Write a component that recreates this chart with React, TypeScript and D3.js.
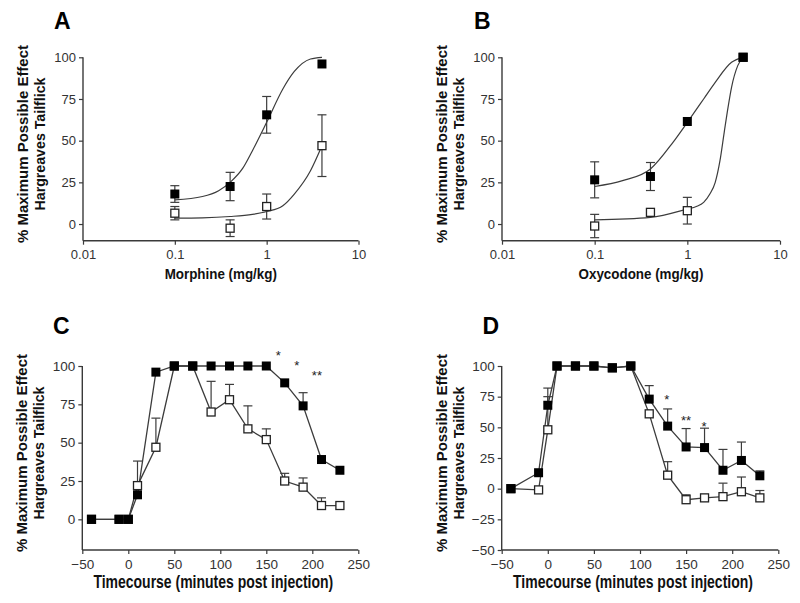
import React, { useEffect, useRef } from "react";
import * as d3 from "d3";

// ---------- data ----------
const doses = [0.1, 0.4, 1, 4];
const morphineFilled = [18, 22.5, 65.5, 96];
const morphineFilledErr = [5, 8.5, 11, 0];
const morphineOpen = [6.5, -2.5, 10.5, 47];
const morphineOpenErr = [4, 5, 7.5, 18.5];
const morphineFilledCurveX = [0.1, 0.2, 0.3, 0.4, 0.55, 0.7, 1, 1.5, 2, 3, 4];
const morphineFilledCurveY = [14.5, 16.5, 20, 25, 33.5, 44, 61, 81, 91.5, 99, 100];
const morphineOpenCurveX = [0.1, 0.2, 0.4, 0.7, 1, 1.5, 2, 3, 4];
const morphineOpenCurveY = [3.5, 3.7, 4.5, 5.8, 7.5, 11, 18, 32, 47];

const oxyFilled = [26.5, 28.5, 61.5, 100];
const oxyFilledErr = [10.8, 8.4, 0, 0];
const oxyOpen = [-1.2, 7, 8, 100];
const oxyOpenErr = [7, 0, 8, 0];
const oxyFilledCurveX = [0.1, 0.2, 0.4, 0.7, 1, 1.5, 2, 3, 4];
const oxyFilledCurveY = [22.5, 26, 33, 49, 61, 75, 85, 97, 100];
const oxyOpenCurveX = [0.1, 0.4, 1, 1.25, 1.5, 1.75, 2, 2.25, 2.5, 2.75, 3, 3.5, 4];
const oxyOpenCurveY = [2.5, 4, 9, 10.5, 13, 18, 25, 38, 55, 70, 82, 95, 100];

const times = [-40, -10, 0, 10, 30, 50, 70, 90, 110, 130, 150, 170, 190, 210, 230];
const cFilled = [0, 0, 0, 16, 96, 100, 100, 100, 100, 100, 100, 89, 74, 39, 32];
const cFilledErr = [0, 0, 0, 0, 0, 0, 0, 0, 0, 0, 0, 0, 8.6, 0, 0];
const cOpen = [0, 0, 0, 22, 47, 100, 100, 70, 78, 59, 52, 25, 21, 9, 9];
const cOpenErr = [0, 0, 0, 16, 19, 0, 0, 20, 10, 15, 7, 5, 6, 5, 0];
const cStarT = [163, 183, 205];
const cStarY = [108.5, 102, 95.5];
const cStarText = ["*", "*", "**"];

const dFilled = [0, 13, 68, 100, 100, 100, 98.5, 100, 73, 51, 34, 33.5, 15, 23, 10.5];
const dFilledErr = [0, 0, 14, 0, 0, 0, 0, 0, 11, 14, 15, 15.8, 17, 15, 4];
const dOpen = [0, -1, 48, 100, 100, 100, 98.5, 100, 61, 11, -9, -7.5, -6.5, -2.5, -7.5];
const dOpenErr = [0, 0, 27, 0, 0, 0, 0, 0, 0, 11, 4, 0, 11, 12, 6];
const dStarT = [129, 150, 169.5];
const dStarY = [74.7, 58, 52.4];
const dStarText = ["*", "**", "*"];

const logTicks = [0.01, 0.1, 1, 10];
const logTickLabels = ["0.01", "0.1", "1", "10"];
const timeTicks = [-50, 0, 50, 100, 150, 200, 250];
const abYTicks = [0, 25, 50, 75, 100];
const cYTicks = [0, 25, 50, 75, 100];
const dYTicks = [-50, -25, 0, 25, 50, 75, 100];

const FONT = "'Liberation Sans', Arial, Helvetica, sans-serif";

type Panel = {
  letter: string;
  lx: number; ly: number;
  x0: number; x1: number; y0: number; y1: number;
  log: boolean;
  xDomain: [number, number];
  yDomain: [number, number];
  yTicks: number[];
  xTitle: string;
  xTitleSize: number; xTitleScaleY: number; xTitleY: number; xTitleShift: number;
  tickSize: number;
  xs: number[];
  filled: number[]; filledErr: number[];
  open: number[]; openErr: number[];
  twoSided: boolean;
  curves?: { x: number[]; y: number[] }[];
  connect: boolean;
  stars?: { t: number[]; y: number[]; s: string[] };
};

const panels: Panel[] = [
  {
    letter: "A", lx: 54, ly: 28.5,
    x0: 83, x1: 358.5, y0: 240.7, y1: 57.3, log: true,
    xDomain: [0.01, 10], yDomain: [-10, 100], yTicks: abYTicks,
    xTitle: "Morphine (mg/kg)", xTitleSize: 13.4, xTitleScaleY: 1.05, xTitleY: 279, xTitleShift: 0,
    tickSize: 13,
    xs: doses, filled: morphineFilled, filledErr: morphineFilledErr,
    open: morphineOpen, openErr: morphineOpenErr, twoSided: true,
    curves: [
      { x: morphineFilledCurveX, y: morphineFilledCurveY },
      { x: morphineOpenCurveX, y: morphineOpenCurveY },
    ],
    connect: false,
  },
  {
    letter: "B", lx: 474, ly: 28.5,
    x0: 502, x1: 780, y0: 240.7, y1: 57.3, log: true,
    xDomain: [0.01, 10], yDomain: [-10, 100], yTicks: abYTicks,
    xTitle: "Oxycodone (mg/kg)", xTitleSize: 13.4, xTitleScaleY: 1.05, xTitleY: 279, xTitleShift: 0,
    tickSize: 13,
    xs: doses, filled: oxyFilled, filledErr: oxyFilledErr,
    open: oxyOpen, openErr: oxyOpenErr, twoSided: true,
    curves: [
      { x: oxyFilledCurveX, y: oxyFilledCurveY },
      { x: oxyOpenCurveX, y: oxyOpenCurveY },
    ],
    connect: false,
  },
  {
    letter: "C", lx: 53, ly: 333.5,
    x0: 82.3, x1: 358.3, y0: 550, y1: 366, log: false,
    xDomain: [-50, 250], yDomain: [-20, 100], yTicks: cYTicks,
    xTitle: "Timecourse (minutes post injection)", xTitleSize: 14, xTitleScaleY: 1.25, xTitleY: 588, xTitleShift: -7,
    tickSize: 13.5,
    xs: times, filled: cFilled, filledErr: cFilledErr,
    open: cOpen, openErr: cOpenErr, twoSided: false,
    connect: true,
    stars: { t: cStarT, y: cStarY, s: cStarText },
  },
  {
    letter: "D", lx: 482.5, ly: 333.5,
    x0: 501.7, x1: 778.3, y0: 550, y1: 366, log: false,
    xDomain: [-50, 250], yDomain: [-50, 100], yTicks: dYTicks,
    xTitle: "Timecourse (minutes post injection)", xTitleSize: 14, xTitleScaleY: 1.25, xTitleY: 588, xTitleShift: -7,
    tickSize: 13.5,
    xs: times, filled: dFilled, filledErr: dFilledErr,
    open: dOpen, openErr: dOpenErr, twoSided: false,
    connect: true,
    stars: { t: dStarT, y: dStarY, s: dStarText },
  },
];

const AXIS_COLOR = "#3a3a3a";
const LINE_COLOR = "#3c3c3c";
const MS = 9; // marker size
const CAP = 4.5;

export default function App() {
  const ref = useRef<SVGSVGElement | null>(null);

  useEffect(() => {
    const svg = d3.select(ref.current);
    svg.selectAll("*").remove();
    svg.append("rect").attr("width", 800).attr("height", 603).attr("fill", "#fff");

    panels.forEach((p) => {
      const g = svg.append("g");
      const x = p.log
        ? d3.scaleLog().domain(p.xDomain).range([p.x0, p.x1])
        : d3.scaleLinear().domain(p.xDomain).range([p.x0, p.x1]);
      const y = d3.scaleLinear().domain(p.yDomain).range([p.y0, p.y1]);

      // axes
      const yAxis = d3.axisLeft(y).tickValues(p.yTicks).tickSize(4).tickPadding(3).tickFormat(d3.format("d"));
      const xAxis = p.log
        ? d3.axisBottom(x as any).tickValues(logTicks).tickSize(4).tickPadding(5)
            .tickFormat((d: any, i: number) => logTickLabels[i])
        : d3.axisBottom(x as any).tickValues(timeTicks).tickSize(4).tickPadding(5).tickFormat(d3.format("d"));

      const ya = g.append("g").attr("transform", `translate(${p.x0},0)`).call(yAxis as any);
      const xa = g.append("g").attr("transform", `translate(0,${p.y0})`).call(xAxis as any);
      [ya, xa].forEach((a) => {
        a.select(".domain").attr("stroke", AXIS_COLOR).attr("stroke-width", 1.4);
        a.selectAll(".tick line").attr("stroke", AXIS_COLOR).attr("stroke-width", 1.2);
        a.selectAll(".tick text")
          .attr("fill", "#333")
          .attr("font-family", FONT)
          .attr("font-size", p.tickSize);
      });
      ya.select(".domain").attr("d", `M0,${p.y0}V${p.y1}`);
      xa.select(".domain").attr("d", `M${p.x0},0H${p.x1}`);

      // error bars
      const drawErr = (vals: number[], errs: number[]) => {
        vals.forEach((v, i) => {
          const e = errs[i];
          if (!e) return;
          const cx = x(p.xs[i]);
          const top = y(v + e);
          const bot = p.twoSided ? y(v - e) : y(v);
          g.append("line").attr("x1", cx).attr("x2", cx).attr("y1", top).attr("y2", bot)
            .attr("stroke", LINE_COLOR).attr("stroke-width", 1.2);
          g.append("line").attr("x1", cx - CAP).attr("x2", cx + CAP).attr("y1", top).attr("y2", top)
            .attr("stroke", LINE_COLOR).attr("stroke-width", 1.2);
          if (p.twoSided)
            g.append("line").attr("x1", cx - CAP).attr("x2", cx + CAP).attr("y1", bot).attr("y2", bot)
              .attr("stroke", LINE_COLOR).attr("stroke-width", 1.2);
        });
      };
      drawErr(p.open, p.openErr);
      drawErr(p.filled, p.filledErr);

      // curves / lines
      if (p.curves) {
        p.curves.forEach((c) => {
          const pts = c.x.map((xv, i) => [x(xv), y(c.y[i])] as [number, number]);
          g.append("path")
            .attr("d", d3.line().curve(d3.curveMonotoneX)(pts))
            .attr("fill", "none").attr("stroke", LINE_COLOR).attr("stroke-width", 1.2);
        });
      }
      if (p.connect) {
        const ln = d3.line<number>().x((_, i) => x(p.xs[i])).y((d) => y(d));
        g.append("path").attr("d", ln(p.open)).attr("fill", "none")
          .attr("stroke", LINE_COLOR).attr("stroke-width", 1.3);
        g.append("path").attr("d", ln(p.filled)).attr("fill", "none")
          .attr("stroke", LINE_COLOR).attr("stroke-width", 1.3);
      }

      // markers: open first, filled on top
      p.open.forEach((v, i) => {
        g.append("rect")
          .attr("x", x(p.xs[i]) - MS / 2 + 0.5).attr("y", y(v) - MS / 2 + 0.5)
          .attr("width", MS - 1).attr("height", MS - 1)
          .attr("fill", "#fff").attr("stroke", "#222").attr("stroke-width", 1.3);
      });
      p.filled.forEach((v, i) => {
        g.append("rect")
          .attr("x", x(p.xs[i]) - MS / 2).attr("y", y(v) - MS / 2)
          .attr("width", MS).attr("height", MS)
          .attr("fill", "#000");
      });

      // significance stars
      if (p.stars) {
        p.stars.t.forEach((t, i) => {
          g.append("text")
            .attr("x", x(t)).attr("y", y(p.stars!.y[i]) + 7)
            .attr("text-anchor", "middle")
            .attr("font-family", FONT).attr("font-size", 13)
            .attr("fill", "#222")
            .text(p.stars!.s[i]);
        });
      }

      // panel letter
      g.append("text").attr("x", p.lx).attr("y", p.ly)
        .attr("font-family", FONT).attr("font-weight", "bold").attr("font-size", 23)
        .attr("fill", "#000").text(p.letter);

      // x title
      const xc = (p.x0 + p.x1) / 2 + p.xTitleShift;
      g.append("text")
        .attr("transform", `translate(${xc},${p.xTitleY}) scale(1,${p.xTitleScaleY})`)
        .attr("text-anchor", "middle")
        .attr("font-family", FONT).attr("font-weight", "bold").attr("font-size", p.xTitleSize)
        .attr("fill", "#111").text(p.xTitle);

      // y title (two lines)
      const yc = (p.y0 + p.y1) / 2 - 5;
      const tx1 = p.x0 - 60.5;
      const tx2 = p.x0 - 43.5;
      [[tx1, "% Maximum Possible Effect", 198], [tx2, "Hargreaves Tailflick", 133]].forEach(([tx, s, len]) => {
        g.append("text")
          .attr("transform", `translate(${tx},${yc}) rotate(-90)`)
          .attr("text-anchor", "middle").attr("dy", "0.36em")
          .attr("font-family", FONT).attr("font-weight", "bold").attr("font-size", 15)
          .attr("textLength", len as number).attr("lengthAdjust", "spacingAndGlyphs")
          .attr("fill", "#111").text(s as string);
      });
    });
  }, []);

  return (
    <svg
      ref={ref}
      width={800}
      height={603}
      style={{ position: "absolute", left: 0, top: 0, display: "block" }}
    />
  );
}
